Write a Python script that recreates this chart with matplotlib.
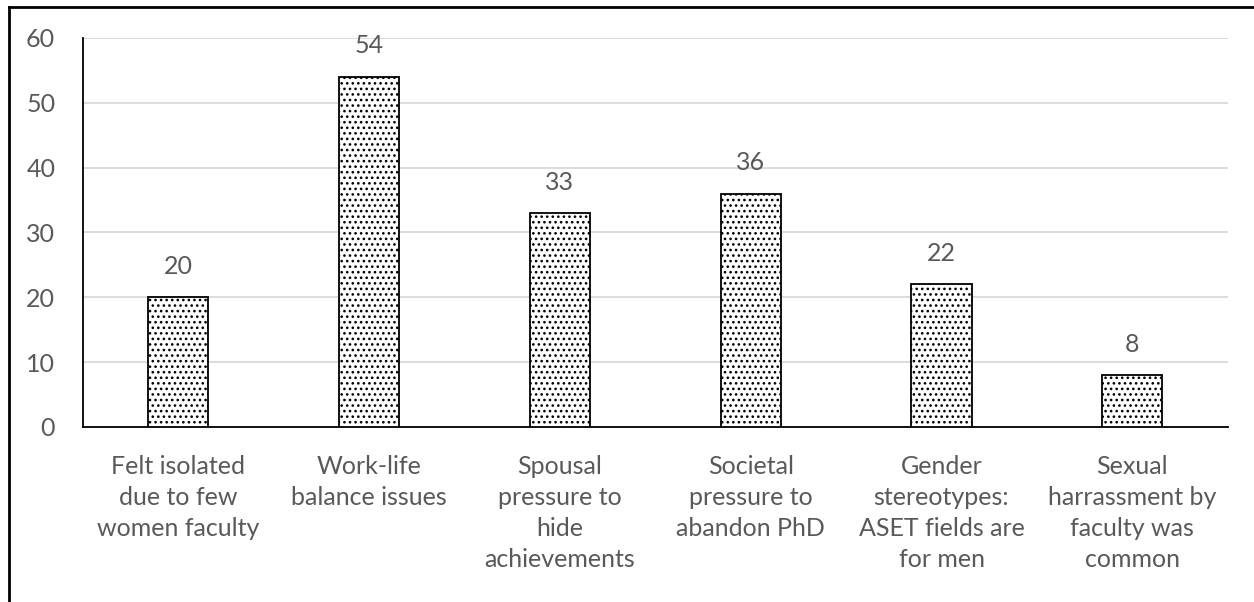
import matplotlib.pyplot as plt
from matplotlib.lines import Line2D

# survey responses: barriers reported by women PhD scholars
categories = [
    'Felt isolated\ndue to few\nwomen faculty',
    'Work-life\nbalance issues',
    'Spousal\npressure to\nhide\nachievements',
    'Societal\npressure to\nabandon PhD',
    'Gender\nstereotypes:\nASET fields are\nfor men',
    'Sexual\nharrassment by\nfaculty was\ncommon',
]
counts = [20, 54, 33, 36, 22, 8]
yTicks = [0, 10, 20, 30, 40, 50, 60]

textGrey = '#595959'
fontSize = 18
plt.rcParams['font.family'] = ['Lato', 'DejaVu Sans']
plt.rcParams['hatch.linewidth'] = 1.1

fig = plt.figure(figsize=(12.54, 6.02), dpi=100)
ax = fig.add_axes([0.0662, 0.2907, 0.9128, 0.6462])

xPos = range(len(categories))
bars = ax.bar(xPos, counts, width=0.315, color='white', edgecolor='black',
              linewidth=1.3, hatch='...', zorder=3)

# value labels above each bar
for x, v in zip(xPos, counts):
    ax.text(x, v + 3.0, str(v), ha='center', va='bottom', fontsize=fontSize,
            color=textGrey)

ax.set_xlim(-0.5, len(categories) - 0.5)
ax.set_ylim(0, 60)
ax.set_yticks(yTicks)
ax.set_xticks(list(xPos))
ax.set_xticklabels(categories, fontsize=fontSize, color=textGrey, linespacing=1.42)
ax.tick_params(axis='y', length=0, pad=20, labelsize=fontSize, labelcolor=textGrey)
ax.tick_params(axis='x', length=0, pad=20)

ax.grid(axis='y', color='#d9d9d9', linewidth=1.3, zorder=0)
for side in ['top', 'right']:
    ax.spines[side].set_visible(False)
ax.spines['left'].set_linewidth(1.3)
ax.spines['bottom'].set_linewidth(1.3)

# outer frame, only left and top edges fall inside the image
fig.add_artist(Line2D([8.5 / 1254, 8.5 / 1254], [0, 1 - 6.5 / 602],
                      transform=fig.transFigure, color='black', linewidth=2))
fig.add_artist(Line2D([8.5 / 1254, 1], [1 - 6.5 / 602, 1 - 6.5 / 602],
                      transform=fig.transFigure, color='black', linewidth=2))

fig.savefig('out.png', dpi=100)
